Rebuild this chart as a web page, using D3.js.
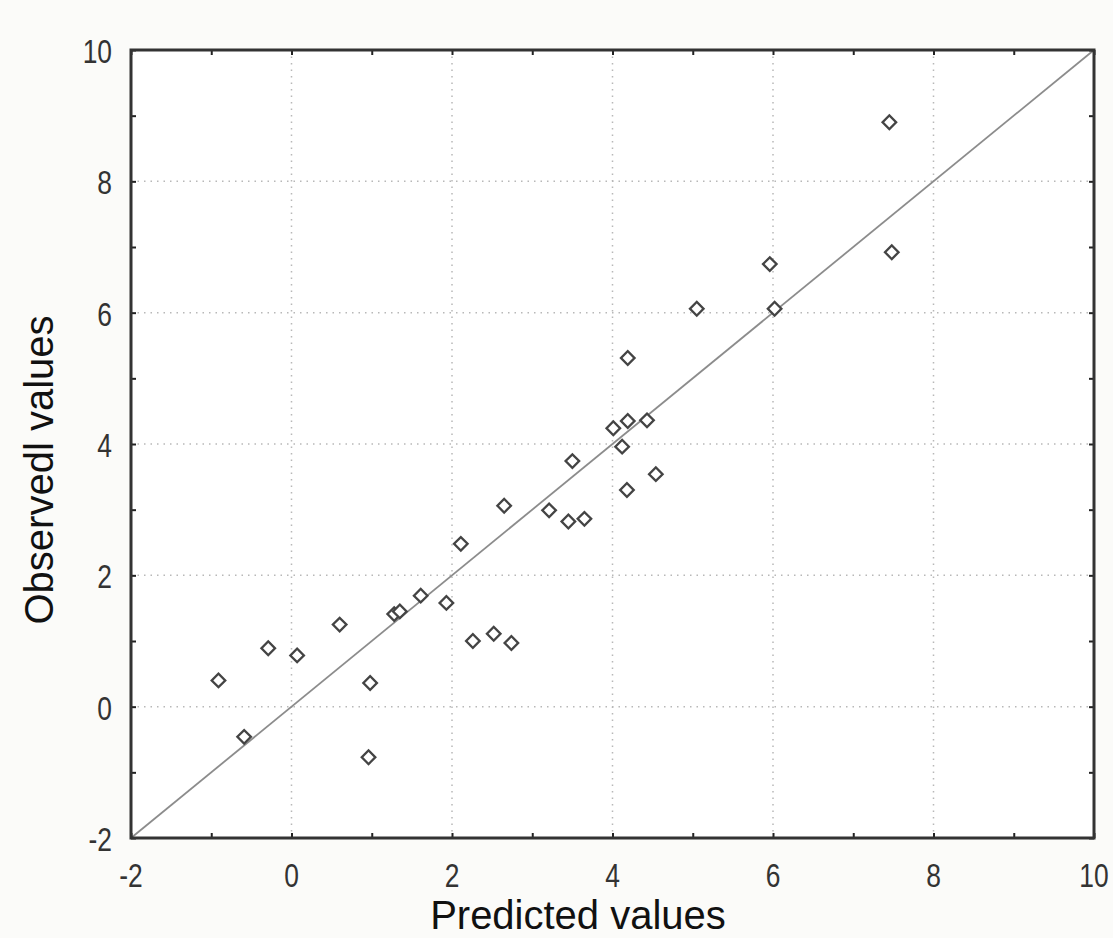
<!DOCTYPE html>
<html>
<head>
<meta charset="utf-8">
<script src="https://cdn.jsdelivr.net/npm/d3@7"></script>
<style>
  body { margin: 0; background: #fbfbf9; }
  svg { display: block; }
</style>
</head>
<body>
<script>
var predicted = [-0.91, -0.59, -0.29, 0.07, 0.60, 0.98, 0.96, 1.28, 1.35, 1.61, 1.93, 2.11, 2.26, 2.52, 2.74,
                 2.65, 3.21, 3.45, 3.65, 3.50, 4.01, 4.19, 4.43, 4.12, 4.54, 4.18, 4.19, 5.05, 6.02, 5.96, 7.45, 7.48];
var observed  = [0.40, -0.46, 0.89, 0.78, 1.25, 0.36, -0.77, 1.41, 1.45, 1.69, 1.58, 2.48, 1.00, 1.11, 0.97,
                 3.06, 2.99, 2.82, 2.86, 3.74, 4.24, 4.35, 4.36, 3.96, 3.54, 3.30, 5.31, 6.06, 6.06, 6.74, 8.90, 6.92];
var majorTicks = [-2, 0, 2, 4, 6, 8, 10];
var minorTicks = [-2, -1, 0, 1, 2, 3, 4, 5, 6, 7, 8, 9, 10];
var fitLine = [-2, 10];

var width = 1113, height = 938;
var plot = {left: 131, right: 1094, top: 50, bottom: 838};

var x = d3.scaleLinear().domain([-2, 10]).range([plot.left, plot.right]);
var y = d3.scaleLinear().domain([-2, 10]).range([plot.bottom, plot.top]);

var svg = d3.select('body').append('svg')
  .attr('width', width)
  .attr('height', height);

svg.append('rect')
  .attr('x', plot.left).attr('y', plot.top)
  .attr('width', plot.right - plot.left).attr('height', plot.bottom - plot.top)
  .attr('fill', '#fff');

// dotted grid at the even values
var grid = svg.append('g')
  .attr('stroke', '#b8b8b8')
  .attr('stroke-width', 1.5)
  .attr('stroke-dasharray', '1.5,5');

grid.selectAll('.gx').data(majorTicks.slice(1, -1)).enter().append('line')
  .attr('x1', function(d) { return x(d); }).attr('x2', function(d) { return x(d); })
  .attr('y1', plot.top).attr('y2', plot.bottom);

grid.selectAll('.gy').data(majorTicks.slice(1, -1)).enter().append('line')
  .attr('y1', function(d) { return y(d); }).attr('y2', function(d) { return y(d); })
  .attr('x1', plot.left).attr('x2', plot.right);

// identity line
svg.append('line')
  .attr('x1', x(fitLine[0])).attr('y1', y(fitLine[0]))
  .attr('x2', x(fitLine[1])).attr('y2', y(fitLine[1]))
  .attr('stroke', '#8c8c8c')
  .attr('stroke-width', 1.8);

// axes with inward ticks on all four sides
var bottomAxis = d3.axisBottom(x).tickValues(minorTicks).tickSize(-5).tickFormat('');
var topAxis = d3.axisTop(x).tickValues(minorTicks).tickSize(-5).tickFormat('');
var leftAxis = d3.axisLeft(y).tickValues(minorTicks).tickSize(-5).tickFormat('');
var rightAxis = d3.axisRight(y).tickValues(minorTicks).tickSize(-5).tickFormat('');

function styleAxis(g) {
  g.select('.domain').remove();
  g.selectAll('.tick line').attr('stroke', '#222').attr('stroke-width', 2);
}

svg.append('g').attr('transform', 'translate(0,' + plot.bottom + ')').call(bottomAxis).call(styleAxis);
svg.append('g').attr('transform', 'translate(0,' + plot.top + ')').call(topAxis).call(styleAxis);
svg.append('g').attr('transform', 'translate(' + plot.left + ',0)').call(leftAxis).call(styleAxis);
svg.append('g').attr('transform', 'translate(' + plot.right + ',0)').call(rightAxis).call(styleAxis);

svg.append('rect')
  .attr('x', plot.left).attr('y', plot.top)
  .attr('width', plot.right - plot.left).attr('height', plot.bottom - plot.top)
  .attr('fill', 'none')
  .attr('stroke', '#333')
  .attr('stroke-width', 3);

// tick labels, squeezed to look like the narrow screen font
var tickFont = '"Liberation Sans", Arial, sans-serif';

svg.selectAll('.xl').data(majorTicks).enter().append('text')
  .attr('transform', function(d) { return 'translate(' + x(d) + ',' + (plot.bottom + 49) + ') scale(0.8,1)'; })
  .attr('text-anchor', 'middle')
  .attr('font-family', tickFont)
  .attr('font-size', 33)
  .attr('fill', '#333')
  .text(function(d) { return d; });

svg.selectAll('.yl').data(majorTicks).enter().append('text')
  .attr('transform', function(d) { return 'translate(' + (plot.left - 19) + ',' + (y(d) + 13) + ') scale(0.8,1)'; })
  .attr('text-anchor', 'end')
  .attr('font-family', tickFont)
  .attr('font-size', 33)
  .attr('fill', '#333')
  .text(function(d) { return d; });

// points
svg.selectAll('.pt').data(predicted).enter().append('rect')
  .attr('x', -4.8).attr('y', -4.8)
  .attr('width', 9.6).attr('height', 9.6)
  .attr('transform', function(d, i) {
    return 'translate(' + x(d) + ',' + y(observed[i]) + ') rotate(45)';
  })
  .attr('fill', '#fff')
  .attr('stroke', '#444')
  .attr('stroke-width', 2.3);

// axis titles
svg.append('text')
  .attr('transform', 'translate(53, 470) rotate(-90)')
  .attr('text-anchor', 'middle')
  .attr('font-family', '"Liberation Sans", Arial, sans-serif')
  .attr('font-size', 40)
  .attr('fill', '#111')
  .text('Observedl values');

svg.append('text')
  .attr('x', 578)
  .attr('y', 929)
  .attr('text-anchor', 'middle')
  .attr('font-family', '"Liberation Sans", Arial, sans-serif')
  .attr('font-size', 40)
  .attr('fill', '#111')
  .text('Predicted values');
</script>
</body>
</html>
